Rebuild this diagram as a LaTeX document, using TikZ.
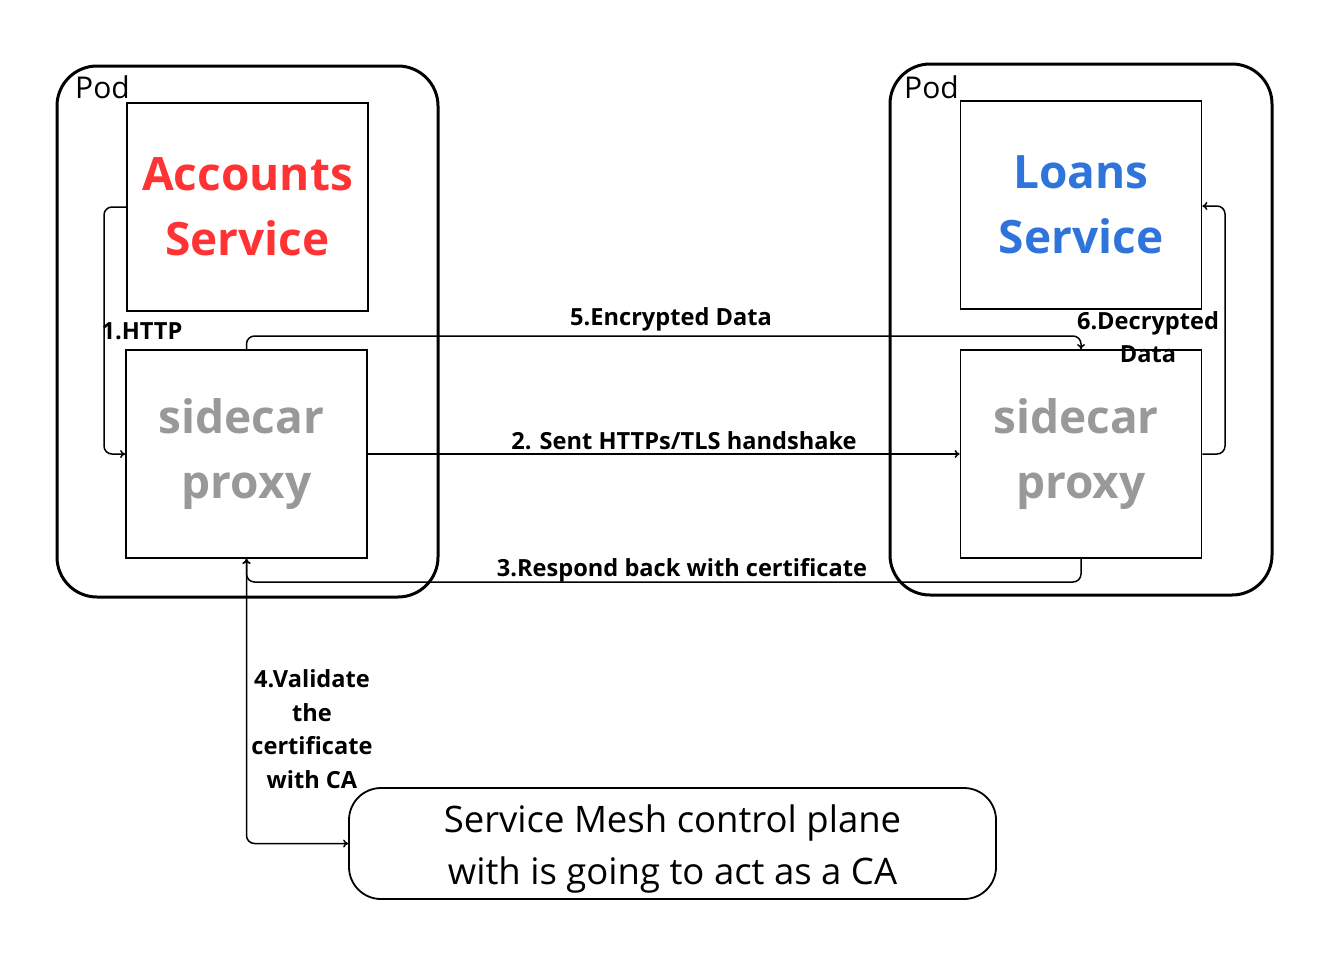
\documentclass[tikz,border=0pt]{standalone}
\usepackage{fontspec}
\setmainfont{Open Sans}
\usetikzlibrary{arrows.meta}
\definecolor{accred}{HTML}{FF3333}
\definecolor{loanblue}{HTML}{2F74DB}
\definecolor{proxygray}{HTML}{999999}
\tikzset{
pod/.style={draw, line width=3pt, rounded corners=40pt},
svcbox/.style={draw, line width=1.8pt, minimum width=241pt, minimum height=208pt,
  align=center, font=\fontsize{46}{65}\selectfont\bfseries},
cabox/.style={draw, line width=1.8pt, rounded corners=32pt, minimum width=647pt,
  minimum height=111pt},
catext/.style={yshift=-6pt, align=center, font=\fontsize{36.5}{52}\selectfont},
podlbl/.style={anchor=north west, inner sep=0pt, font=\fontsize{30}{36}\selectfont},
flow/.style={line width=1.5pt, rounded corners=8pt, -{To[length=5pt,width=8pt]}},
lbl/.style={align=center, inner sep=0pt, font=\fontsize{23.6}{33.5}\selectfont\bfseries}
}
\begin{document}
\begin{tikzpicture}[x=1pt, y=-1pt]
\useasboundingbox (0,0) rectangle (1324,964);
% pods
\draw[pod] (57,66) rectangle (438,597);
\draw[pod] (890,64) rectangle (1272,595);
\node[podlbl] (podl) at (75,76) {Pod};
\node[podlbl] (podr) at (904,76) {Pod};
% services and proxies
\node[svcbox, text=accred] (acc) at (247.5,207) {Accounts\\Service};
\node[svcbox, text=proxygray] (prl) at (246.5,454) {\hspace*{-10pt}sidecar\\proxy};
\node[svcbox, text=loanblue] (loan) at (1081,205) {Loans\\Service};
\node[svcbox, text=proxygray] (prr) at (1081,454) {\hspace*{-10pt}sidecar\\proxy};
\node[cabox, label={[catext]center:{Service Mesh control plane\\with is going to act as a CA}}]
  (ca) at (672.5,843.5) {};
% connectors
\coordinate (c1) at (104,0);
\draw[flow] (acc.west) -- (c1 |- acc.west) |- (prl.west);
\draw[flow] (prl.east) -- (prr.west);
\coordinate (c3) at (0,582);
\draw[flow] (prr.south) |- (prl.south |- c3) -- (prl.south);
\draw[flow, {To[length=5pt,width=8pt]}-{To[length=5pt,width=8pt]}] (prl.south) |- (ca.west);
\coordinate (c5) at (0,336);
\draw[flow] (prl.north) |- (prr.north |- c5) -- (prr.north);
\coordinate (c6) at (1225,206);
\draw[flow] (prr.east) -| (c6) -- (loan.east |- c6);
% labels
\node[lbl] (l1) at (142,331) {1.HTTP};
\node[lbl] (l2) at (684,441) {2. Sent HTTPs/TLS handshake};
\node[lbl] (l3) at (682,570) {3.Respond back with certificate};
\node[lbl] (l4) at (312,729) {4.Validate\\the\\certificate\\with CA};
\node[lbl] (l5) at (671,319) {5.Encrypted Data};
\node[lbl] (l6) at (1148,337) {6.Decrypted\\Data};
\end{tikzpicture}
\end{document}
